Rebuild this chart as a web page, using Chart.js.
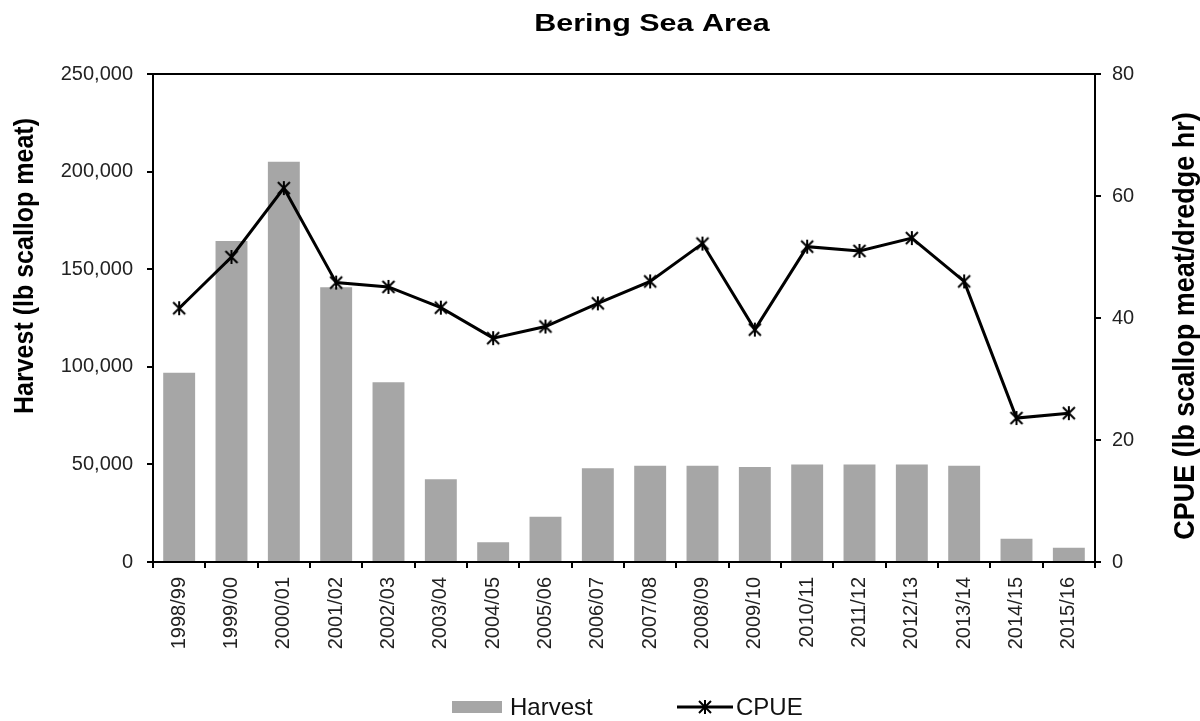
<!DOCTYPE html>
<html>
<head>
<meta charset="utf-8">
<title>Bering Sea Area</title>
<script src="https://cdn.jsdelivr.net/npm/chart.js@4.4.0/dist/chart.umd.min.js"></script>
<style>
    html, body { margin: 0; padding: 0; background: #ffffff; }
    #wrap { width: 1200px; height: 721px; position: relative; }
</style>
</head>
<body>
<div id="wrap"><canvas id="scallopChart"></canvas></div>
<script>
// Bering Sea scallop fishery - harvest (bars) and CPUE (line)
const seasons = ['1998/99', '1999/00', '2000/01', '2001/02', '2002/03', '2003/04',
    '2004/05', '2005/06', '2006/07', '2007/08', '2008/09', '2009/10',
    '2010/11', '2011/12', '2012/13', '2013/14', '2014/15', '2015/16'];

const harvestLbs = [97000, 164400, 205100, 140700, 92100, 42400,
    10100, 23200, 48000, 49300, 49300, 48700,
    50000, 50000, 50000, 49300, 11900, 7300];

const cpueValues = [41.6, 50.0, 61.3, 45.8, 45.1, 41.7,
    36.7, 38.6, 42.4, 46.0, 52.2, 38.1,
    51.7, 51.0, 53.1, 46.0, 23.6, 24.4];

const harvestTicks = [0, 50000, 100000, 150000, 200000, 250000];
const cpueTicks = [0, 20, 40, 60, 80];

const FONT = '"Liberation Sans", Arial, sans-serif';
const BAR_GREY = '#a6a6a6';

// Excel style asterisk marker (x plus a vertical stroke)
function makeAsterisk() {
    const c = document.createElement('canvas');
    c.width = 16;
    c.height = 16;
    const g = c.getContext('2d');
    g.strokeStyle = '#000';
    g.lineWidth = 2;
    g.beginPath();
    g.moveTo(2, 2); g.lineTo(14, 14);
    g.moveTo(14, 2); g.lineTo(2, 14);
    g.moveTo(8, 1); g.lineTo(8, 15);
    g.stroke();
    return c;
}
const asterisk = makeAsterisk();

// draw a rotated (bottom-to-top) axis title, a bit widened across the text
function drawAxisTitle(ctx, text, x, y, size) {
    ctx.save();
    ctx.font = 'bold ' + size + 'px ' + FONT;
    ctx.translate(x, y);
    ctx.rotate(-Math.PI / 2);
    ctx.scale(1, 1.1);
    ctx.fillText(text, 0, 0);
    ctx.restore();
}

// Titles, top frame line and the legend are drawn here
const chromePlugin = {
    id: 'chrome',
    afterDraw(chart) {
        const { ctx, chartArea: a } = chart;
        ctx.save();

        // top edge of the plot frame
        ctx.strokeStyle = '#000';
        ctx.lineWidth = 2;
        ctx.beginPath();
        ctx.moveTo(a.left - 1, a.top);
        ctx.lineTo(a.right + 1, a.top);
        ctx.stroke();

        // chart title
        ctx.fillStyle = '#000';
        ctx.textAlign = 'center';
        ctx.textBaseline = 'alphabetic';
        ctx.font = 'bold 24px ' + FONT;
        ctx.save();
        ctx.translate(652, 31);
        ctx.scale(1.27, 1);
        ctx.fillText('Bering Sea Area', 0, 0);
        ctx.restore();

        // axis titles (both read bottom to top)
        drawAxisTitle(ctx, 'Harvest (lb scallop meat)', 33, 266, 25);
        drawAxisTitle(ctx, 'CPUE (lb scallop meat/dredge hr)', 1194, 326, 27);

        // legend
        const ly = 707;
        ctx.fillStyle = BAR_GREY;
        ctx.fillRect(452, ly - 6, 50, 12);
        ctx.strokeStyle = '#000';
        ctx.lineWidth = 3;
        ctx.beginPath();
        ctx.moveTo(677, ly);
        ctx.lineTo(733, ly);
        ctx.stroke();
        ctx.drawImage(asterisk, 705 - 8, ly - 8);

        ctx.fillStyle = '#111';
        ctx.font = '24px ' + FONT;
        ctx.textAlign = 'left';
        ctx.textBaseline = 'middle';
        ctx.fillText('Harvest', 510, ly + 1);
        ctx.fillText('CPUE', 736, ly + 1);

        ctx.restore();
    }
};

const ctx = document.getElementById('scallopChart');

const scallopChart = new Chart(ctx, {
    data: {
        labels: seasons,
        datasets: [
            {
                type: 'line',
                label: 'CPUE',
                data: cpueValues,
                yAxisID: 'yCpue',
                borderColor: '#000',
                borderWidth: 3,
                pointStyle: asterisk,
                pointRadius: 7,
                tension: 0,
                fill: false,
                order: 1
            },
            {
                type: 'bar',
                label: 'Harvest',
                data: harvestLbs,
                yAxisID: 'yHarvest',
                backgroundColor: BAR_GREY,
                borderWidth: 0,
                barPercentage: 0.61,
                categoryPercentage: 1.0,
                order: 2
            }
        ]
    },
    plugins: [chromePlugin],
    options: {
        responsive: true,
        maintainAspectRatio: false,
        animation: false,
        layout: {
            padding: { top: 74, left: 0, right: 0, bottom: 0 }
        },
        plugins: {
            legend: { display: false },
            title: { display: false },
            tooltip: { enabled: false }
        },
        scales: {
            x: {
                offset: true,
                grid: {
                    offset: true,
                    drawOnChartArea: false,
                    drawTicks: true,
                    tickLength: 6,
                    color: '#000',
                    lineWidth: 2
                },
                border: { color: '#000', width: 2 },
                ticks: {
                    color: '#222',
                    font: { family: FONT, size: 20 },
                    minRotation: 90,
                    maxRotation: 90,
                    padding: 9,
                    autoSkip: false
                },
                afterFit(scale) {
                    scale.height = 721 - 562;
                }
            },
            yHarvest: {
                position: 'left',
                min: 0,
                max: 250000,
                afterBuildTicks(scale) {
                    scale.ticks = harvestTicks.map(v => ({ value: v }));
                },
                grid: {
                    drawOnChartArea: false,
                    drawTicks: true,
                    tickLength: 6,
                    color: '#000',
                    lineWidth: 2
                },
                border: { color: '#000', width: 2 },
                ticks: {
                    color: '#222',
                    font: { family: FONT, size: 20 },
                    padding: 14,
                    callback: v => v.toLocaleString('en-US')
                },
                afterFit(scale) {
                    scale.width = 153;
                }
            },
            yCpue: {
                position: 'right',
                min: 0,
                max: 80,
                afterBuildTicks(scale) {
                    scale.ticks = cpueTicks.map(v => ({ value: v }));
                },
                grid: {
                    drawOnChartArea: false,
                    drawTicks: true,
                    tickLength: 6,
                    color: '#000',
                    lineWidth: 2
                },
                border: { color: '#000', width: 2 },
                ticks: {
                    color: '#222',
                    font: { family: FONT, size: 20 },
                    padding: 11
                },
                afterFit(scale) {
                    scale.width = 1200 - 1095;
                }
            }
        }
    }
});
</script>
</body>
</html>
